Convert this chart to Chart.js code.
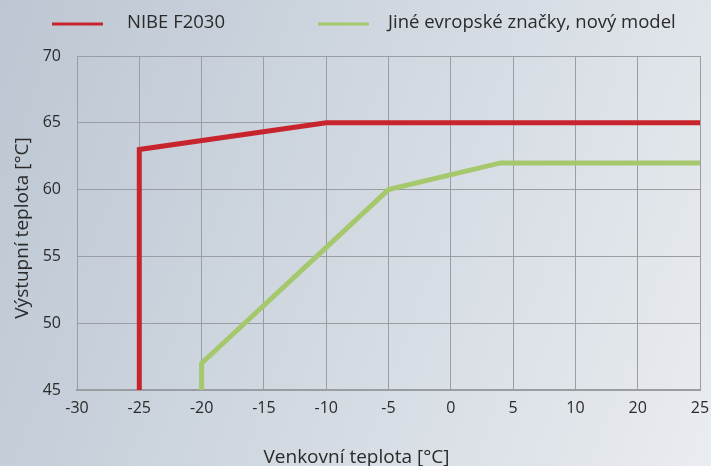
<!DOCTYPE html>
<html>
<head>
<meta charset="utf-8">
<script src="https://cdn.jsdelivr.net/npm/chart.js"></script>
<style>
  html, body { margin: 0; padding: 0; }
  body {
    width: 711px; height: 466px; overflow: hidden;
    background: linear-gradient(110deg, #bcc7d3 0%, #d2d9e1 50%, #e9ecf0 100%);
  }
  canvas { display: block; }
</style>
</head>
<body>
<canvas id="chart" width="711" height="466"></canvas>
<script>
// x axis is not linear (15 is skipped), so tick labels sit at evenly spaced slots
var xTickLabels = [-30, -25, -20, -15, -10, -5, 0, 5, 10, 20, 25];
var yMin = 45, yMax = 70, yStep = 5;

var nibeName = 'NIBE F2030';
var nibeTemp = [-25, -25, -10, 25];
var nibeFlow = [45, 63, 65, 65];

var otherName = 'Jiné evropské značky, nový model';
var otherTemp = [-20, -20, -5, 4, 25];
var otherFlow = [45, 47, 60, 62, 62];

var xTitle = 'Venkovní teplota [°C]';
var yTitle = 'Výstupní teplota [°C]';

var fontFamily = '"Open Sans", "Noto Sans", sans-serif';
var textColor = '#2a2a2a';
var gridColor = '#9a9da2';

// temperature -> slot on the axis (linear between neighbouring labels)
function slot(t) {
    for (var i = 0; i < xTickLabels.length - 1; i++) {
        var a = xTickLabels[i], b = xTickLabels[i + 1];
        if (t >= a && t <= b) return i + (t - a) / (b - a);
    }
    return t < xTickLabels[0] ? 0 : xTickLabels.length - 1;
}

function points(temps, flows) {
    return temps.map(function(t, i) { return {x: slot(t), y: flows[i]}; });
}

// legend + axis titles drawn by hand so they can sit where the original has them
var decorPlugin = {
    id: 'decor',
    afterDraw: function(chart) {
        var ctx = chart.ctx;
        var ds = chart.data.datasets;
        var items = [
            {x0: 52, x1: 103, tx: 127},
            {x0: 318, x1: 369, tx: 388}
        ];
        ctx.save();
        ctx.font = '18.5px ' + fontFamily;
        ctx.textBaseline = 'middle';
        ctx.textAlign = 'left';
        items.forEach(function(it, i) {
            ctx.strokeStyle = ds[i].borderColor;
            ctx.lineWidth = 3;
            ctx.beginPath();
            ctx.moveTo(it.x0, 24);
            ctx.lineTo(it.x1, 24);
            ctx.stroke();
            ctx.fillStyle = textColor;
            ctx.fillText(ds[i].label, it.tx, 23);
        });
        ctx.font = '19px ' + fontFamily;
        ctx.textAlign = 'center';
        ctx.textBaseline = 'alphabetic';
        ctx.fillText(xTitle, chart.width / 2 + 1, 463);

        ctx.translate(28, 228);
        ctx.rotate(-Math.PI / 2);
        ctx.fillText(yTitle, 0, 0);
        ctx.restore();
    }
};

new Chart(document.getElementById('chart'), {
    type: 'line',
    data: {
        datasets: [{
            label: nibeName,
            data: points(nibeTemp, nibeFlow),
            borderColor: '#c8242d',
            borderWidth: 5,
            borderJoinStyle: 'miter',
            pointRadius: 0,
            fill: false
        }, {
            label: otherName,
            data: points(otherTemp, otherFlow),
            borderColor: '#a6c86c',
            borderWidth: 5,
            borderJoinStyle: 'miter',
            pointRadius: 0,
            fill: false
        }]
    },
    options: {
        responsive: false,
        animation: false,
        devicePixelRatio: 1,
        layout: {padding: {left: 0, top: 56, right: 11, bottom: 0}},
        plugins: {legend: {display: false}, tooltip: {enabled: false}},
        scales: {
            x: {
                type: 'linear',
                min: 0,
                max: xTickLabels.length - 1,
                afterFit: function(s) {
                    s.height = 76;
                    s.paddingLeft = 0;
                    s.paddingRight = 0;
                },
                afterBuildTicks: function(s) {
                    s.ticks = xTickLabels.map(function(v, i) { return {value: i}; });
                },
                ticks: {
                    autoSkip: false,
                    maxRotation: 0,
                    padding: 9,
                    color: textColor,
                    font: {family: fontFamily, size: 16},
                    callback: function(v) { return String(xTickLabels[v]); }
                },
                grid: {color: gridColor, lineWidth: 1, drawTicks: false},
                border: {color: gridColor, width: 2}
            },
            y: {
                min: yMin,
                max: yMax,
                afterFit: function(s) {
                    s.width = 77;
                    s.paddingTop = 0;
                    s.paddingBottom = 0;
                },
                ticks: {
                    stepSize: yStep,
                    padding: 16,
                    color: textColor,
                    font: {family: fontFamily, size: 16}
                },
                grid: {color: gridColor, lineWidth: 1, drawTicks: false},
                border: {color: gridColor, width: 1}
            }
        }
    },
    plugins: [decorPlugin]
});
</script>
</body>
</html>
